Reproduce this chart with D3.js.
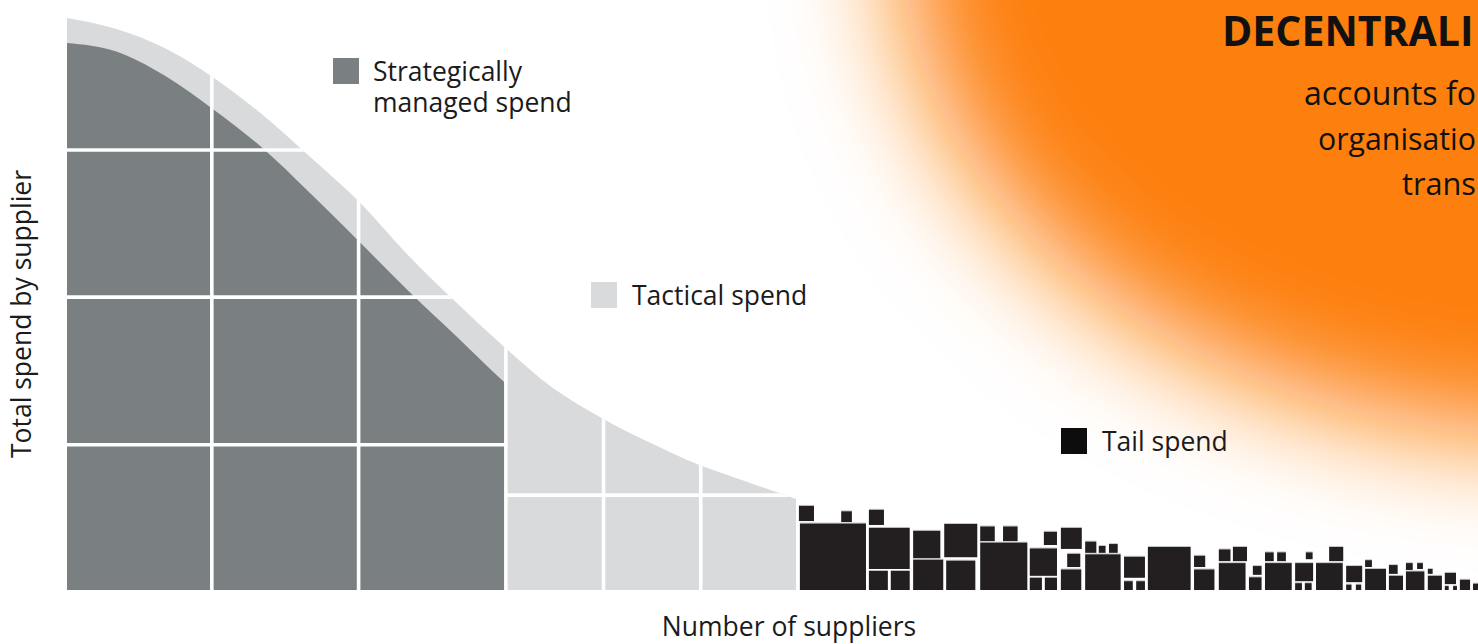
<!DOCTYPE html>
<html><head><meta charset="utf-8">
<script src="https://cdn.jsdelivr.net/npm/d3@7"></script>
<style>html,body{margin:0;padding:0;background:#fff;overflow:hidden}
svg{display:block;font-family:"Open Sans",sans-serif}</style>
</head><body>
<svg id="chart" width="1478" height="644"></svg>
<script>
// ---------- data (x: supplier rank units, y: spend units) ----------
const curveX = [0,10,20,30,40,50,60,70,80,90,100,110,120,130,140,150];
const totalSpend = [117.0,114.8,110.9,104.9,97.4,88.6,79.5,68.7,58.9,49.7,41.3,35.2,30.1,25.6,22.1,18.6];
const strategicX = [0,10,20,30,40,50,60,70,80,90,91];
const strategicSpend = [111.9,110.2,105.3,98.4,90.6,81.2,71.4,61.4,52.0,42.5,41.6];
const strategicCols = [29.8, 60.0, 90.3];
const strategicRows = [29.7, 59.9, 90.0];
const tacticalCols = [110.4, 130.4];
const tacticalRows = [19.4];
const tacticalEnd = 150;

const tailX = [150.6,159.3,165.0,150.8,165.0,165.0,169.5,174.1,174.1,180.5,180.9,187.9,192.6,187.9,198.1,198.1,201.2,201.0,204.5,205.8,204.5,209.5,212.3,214.4,209.5,217.5,217.5,220.0,222.4,231.9,231.9,237.0,239.9,237.0,244.0,243.2,246.5,249.0,246.5,254.9,252.7,252.7,254.7,259.7,257.0,263.2,263.2,265.2,267.1,267.1,272.0,272.0,275.5,277.8,275.5,280.0,280.0,283.5,283.5,285.2,286.6,289.3];
const tailBase = [14.1,13.9,13.3,0,4.3,0,0,6.5,0,6.7,0,10.0,10.0,0,2.9,0,0,9.2,8.4,4.7,0,7.6,7.6,7.6,0,2.5,0,0,0,4.7,0,5.9,5.9,0,3.1,0,5.9,5.9,0,6.3,1.8,0,0,5.9,0,1.6,0,0,4.7,0,3.3,0,4.1,4.3,0,3.3,0,1.2,0,0,0,0];
const tailSize = [3.1,2.2,3.1,13.6,8.4,3.9,3.9,5.6,6.2,6.8,6.0,3.0,3.0,9.7,5.6,2.5,2.5,2.7,4.3,2.7,4.2,2.3,1.4,1.8,7.3,4.3,1.8,1.8,8.8,2.3,4.2,2.4,2.9,5.5,1.8,2.6,1.8,1.8,5.5,1.4,3.7,1.4,1.4,2.9,5.5,3.3,1.1,1.1,1.4,4.3,1.8,2.9,1.4,1.2,3.8,1.0,2.9,2.3,0.8,0.8,2.1,1.3];

const legendLabels = [["Strategically","managed spend"],["Tactical spend"],["Tail spend"]];
const axisLabels = {x:"Number of suppliers", y:"Total spend by supplier"};
const calloutLines = ["DECENTRALI","accounts fo","organisatio","trans"];

// ---------- setup ----------
const W = 1478, H = 644;
const svg = d3.select("#chart");
const x = d3.scaleLinear().domain([0,150]).range([67,796]);
const y = d3.scaleLinear().domain([0,90]).range([590,150]);
const C = {strat:"#7a8081", tact:"#d9dadb", tail:"#231f20", orange:"#fd7f0f", text:"#1b1b1b"};

const defs = svg.append("defs");
const blur = defs.append("filter").attr("id","blur")
  .attr("x","-50%").attr("y","-50%").attr("width","200%").attr("height","200%");
blur.append("feGaussianBlur").attr("stdDeviation",58);

// orange glow
svg.append("ellipse").attr("cx",1565).attr("cy",-62).attr("rx",665).attr("ry",500)
  .attr("fill",C.orange).attr("filter","url(#blur)");

// light (total) area
const outerPts = curveX.map((v,i)=>[v,totalSpend[i]]);
const area = d3.area().x(d=>x(d[0])).y0(y(0)).y1(d=>y(d[1])).curve(d3.curveMonotoneX);
defs.append("clipPath").attr("id","lightClip").append("path").attr("d",area(outerPts));
svg.append("path").attr("d",area(outerPts)).attr("fill",C.tact);

// dark (strategic) area
defs.append("clipPath").attr("id","stratClip").append("rect")
  .attr("x",x(0)).attr("y",0).attr("width",x(strategicCols[2])-x(0)).attr("height",H);
const innerPts = strategicX.map((v,i)=>[v,strategicSpend[i]]);
svg.append("path").attr("d",area(innerPts)).attr("fill",C.strat).attr("clip-path","url(#stratClip)");

// white grid
const grid = svg.append("g").attr("clip-path","url(#lightClip)")
  .attr("stroke","#fff").attr("stroke-width",3.6);
grid.selectAll(".sc").data(strategicCols.concat(tacticalCols)).join("line")
  .attr("x1",d=>x(d)).attr("x2",d=>x(d)).attr("y1",0).attr("y2",y(0));
grid.selectAll(".sr").data(strategicRows).join("line").attr("class","sr")
  .attr("x1",x(0)).attr("x2",x(strategicCols[2])).attr("y1",d=>y(d)).attr("y2",d=>y(d));
grid.selectAll(".tr").data(tacticalRows).join("line").attr("class","tr")
  .attr("x1",x(strategicCols[2])).attr("x2",x(tacticalEnd)).attr("y1",d=>y(d)).attr("y2",d=>y(d));

// tail squares
const tail = svg.append("g");
const tailIdx = d3.range(tailX.length);
tail.selectAll(".hl").data(tailIdx).join("rect").attr("class","hl")
  .attr("x",i=>x(tailX[i])).attr("y",i=>y(tailBase[i]+tailSize[i])-1)
  .attr("width",i=>x(tailX[i]+tailSize[i])-x(tailX[i])).attr("height",1)
  .attr("fill","#c8c8c8");
tail.selectAll(".sq").data(tailIdx).join("rect").attr("class","sq")
  .attr("x",i=>x(tailX[i])).attr("y",i=>y(tailBase[i]+tailSize[i]))
  .attr("width",i=>x(tailX[i]+tailSize[i])-x(tailX[i]))
  .attr("height",i=>y(tailBase[i])-y(tailBase[i]+tailSize[i]))
  .attr("fill",C.tail);

// legend
const legendPos = [[333,58],[591,282],[1061,428]];
const legendCol = [C.strat, C.tact, "#0d0d0d"];
legendLabels.forEach((lines,k)=>{
  const g = svg.append("g").attr("transform",`translate(${legendPos[k][0]},${legendPos[k][1]})`);
  g.append("rect").attr("width",26).attr("height",26).attr("fill",legendCol[k]);
  lines.forEach((l,j)=>g.append("text").attr("x",k===0?40:41).attr("y",23+31*j)
    .attr("font-size",26.5).attr("fill",C.text).text(l));
});

// axis labels
svg.append("text").attr("x",789).attr("y",636).attr("text-anchor","middle")
  .attr("font-size",26.5).attr("fill",C.text).text(axisLabels.x);
svg.append("text").attr("transform","translate(31,314) rotate(-90)").attr("text-anchor","middle")
  .attr("font-size",26.5).attr("fill",C.text).text(axisLabels.y);

// callout text: shrink a line's font just enough to end at the right edge
const calloutPos = [[1222,46,41,700],[1304,105,32.5,400],[1318,150,32.5,400],[1402,195,32.5,400]];
calloutLines.forEach((s,i)=>{
  const [px,py,fs,fw] = calloutPos[i];
  const t = svg.append("text").attr("x",px).attr("y",py).attr("font-size",fs).attr("font-weight",fw)
    .attr("fill","#111").text(s);
  const avail = W - 2 - px, len = t.node().getComputedTextLength();
  if (len > avail) t.attr("font-size", fs*avail/len);
});
</script>
</body></html>
